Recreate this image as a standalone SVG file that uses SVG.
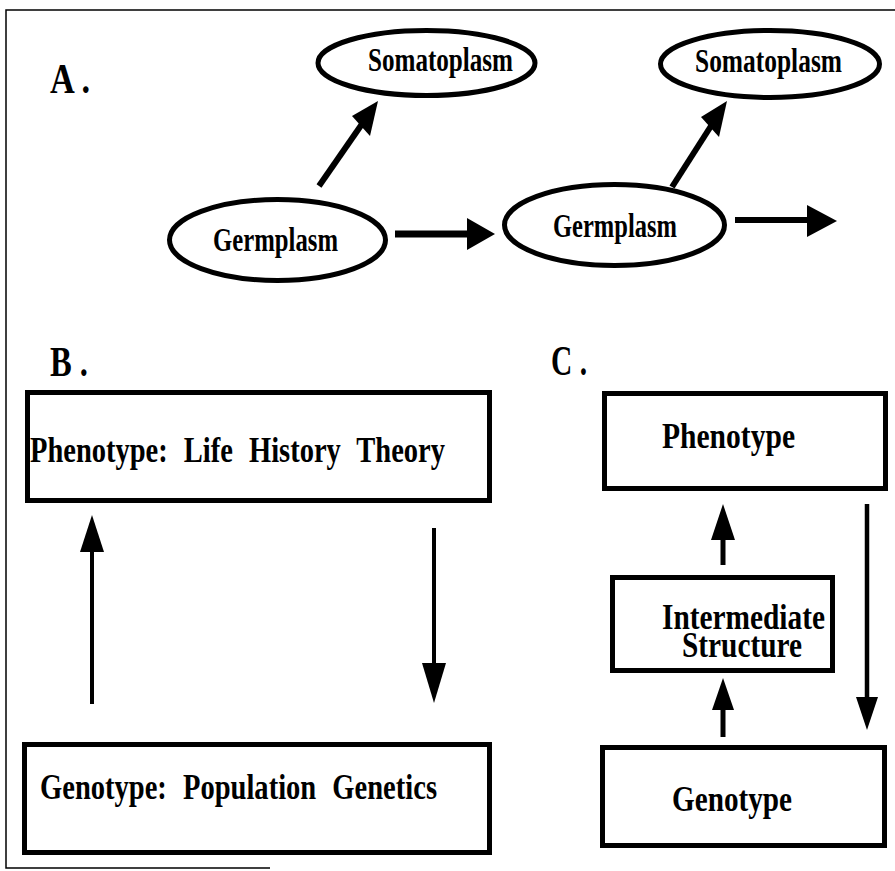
<svg xmlns="http://www.w3.org/2000/svg" width="895" height="871" viewBox="0 0 895 871">
<style>
.t{font-family:"Liberation Serif","Times New Roman",serif;font-weight:bold;fill:#000}
.lbl{font-size:42px}
.el{font-size:33px}
.bx{font-size:35px}
.shape{fill:#fff;stroke:#000;stroke-width:5}
.shaft{stroke:#000;fill:none}
.head{fill:#000;stroke:none}
.frame{fill:none;stroke:#000;stroke-width:1.5}
</style>
<rect x="0" y="0" width="895" height="871" fill="#fff"/>
<path class="frame" d="M895 10 H6 V868 H270"/>

<g id="labels">
<text class="t lbl" x="50" y="93" textLength="40" lengthAdjust="spacingAndGlyphs">A .</text>
<text class="t lbl" x="50" y="376" textLength="38" lengthAdjust="spacingAndGlyphs">B .</text>
<text class="t lbl" x="551" y="375" textLength="36" lengthAdjust="spacingAndGlyphs">C .</text>
</g>

<g id="somatoplasm1">
<ellipse class="shape" cx="426.5" cy="63" rx="108.5" ry="32.5"/>
<text class="t el" x="368" y="71" textLength="145" lengthAdjust="spacingAndGlyphs">Somatoplasm</text>
</g>
<g id="germplasm1">
<ellipse class="shape" cx="277.5" cy="240" rx="108" ry="40.5"/>
<text class="t el" x="213" y="251" textLength="125" lengthAdjust="spacingAndGlyphs">Germplasm</text>
</g>
<g id="germplasm2">
<ellipse class="shape" cx="614.5" cy="225" rx="110" ry="40.5"/>
<text class="t el" x="553" y="237" textLength="124" lengthAdjust="spacingAndGlyphs">Germplasm</text>
</g>
<g id="somatoplasm2">
<ellipse class="shape" cx="770" cy="64" rx="109.5" ry="33.5"/>
<text class="t el" x="695" y="72" textLength="147" lengthAdjust="spacingAndGlyphs">Somatoplasm</text>
</g>

<g id="b-phenotype">
<rect class="shape" x="27.5" y="392.5" width="462" height="108"/>
<text class="t bx" x="30" y="462" textLength="415" lengthAdjust="spacingAndGlyphs" style="word-spacing:11px">Phenotype: Life History Theory</text>
</g>
<g id="b-genotype">
<rect class="shape" x="24.5" y="744.5" width="465" height="108"/>
<text class="t bx" x="40" y="799" textLength="397" lengthAdjust="spacingAndGlyphs" style="word-spacing:11px">Genotype: Population Genetics</text>
</g>

<g id="c-phenotype">
<rect class="shape" x="604.5" y="393.5" width="281" height="95"/>
<text class="t bx" x="662" y="448" textLength="133" lengthAdjust="spacingAndGlyphs">Phenotype</text>
</g>
<g id="c-intermediate">
<rect class="shape" x="612.5" y="577.5" width="220" height="93"/>
<text class="t bx" x="662" y="629" textLength="163" lengthAdjust="spacingAndGlyphs">Intermediate</text>
<text class="t bx" x="682" y="657" textLength="120" lengthAdjust="spacingAndGlyphs">Structure</text>
</g>
<g id="c-genotype">
<rect class="shape" x="602.5" y="747.5" width="282" height="98"/>
<text class="t bx" x="672" y="811" textLength="120" lengthAdjust="spacingAndGlyphs">Genotype</text>
</g>

<g id="connectors">
<line class="shaft" x1="319" y1="186" x2="362" y2="124" stroke-width="6"/>
<polygon class="head" points="378,101 352,116 370,136"/>
<line class="shaft" x1="395" y1="234" x2="468" y2="234" stroke-width="7"/>
<polygon class="head" points="495,234 467,218 467,250"/>
<line class="shaft" x1="672" y1="187" x2="711" y2="126" stroke-width="6"/>
<polygon class="head" points="727,101 701,117 719,137"/>
<line class="shaft" x1="735" y1="220" x2="808" y2="220" stroke-width="6"/>
<polygon class="head" points="837,221 807,205 807,237"/>

<line class="shaft" x1="92" y1="704" x2="92" y2="550" stroke-width="4"/>
<polygon class="head" points="92,515 80,552 104,552"/>
<line class="shaft" x1="434" y1="528" x2="434" y2="665" stroke-width="4"/>
<polygon class="head" points="434,703 422,663 446,663"/>

<line class="shaft" x1="723" y1="565" x2="723" y2="538" stroke-width="5"/>
<polygon class="head" points="723,504 711,540 735,540"/>
<line class="shaft" x1="723" y1="737" x2="723" y2="708" stroke-width="5"/>
<polygon class="head" points="723,678 712,710 734,710"/>
<line class="shaft" x1="867" y1="504" x2="867" y2="699" stroke-width="4.5"/>
<polygon class="head" points="867,730 856,697 878,697"/>
</g>
</svg>
